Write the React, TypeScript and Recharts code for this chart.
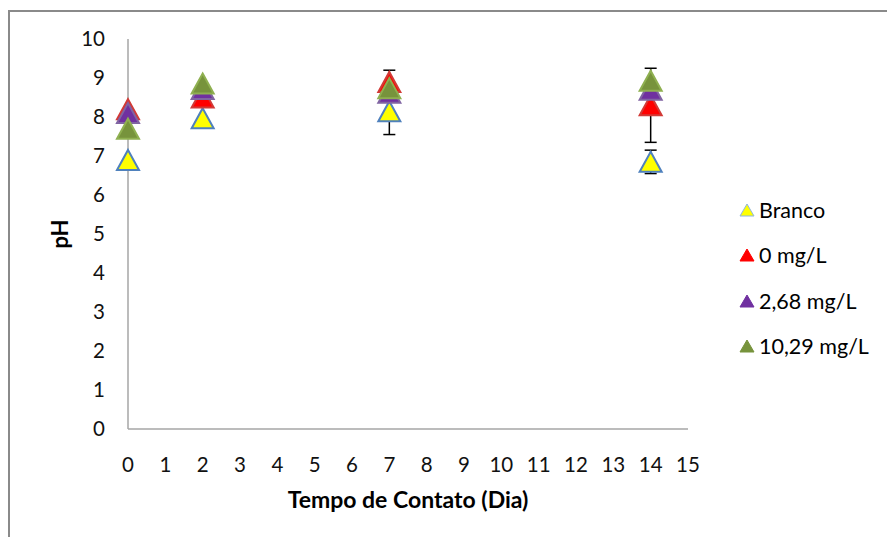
import React from 'react';
import {
  ScatterChart,
  Scatter,
  XAxis,
  YAxis,
  ErrorBar,
  Legend,
  Label,
} from 'recharts';

const days = [0, 2, 7, 14];
const brancoValues = [6.9, 7.97, 8.15, 6.85];
const brancoErrors = [null, null, 0.6, 0.3];
const zeroValues = [8.2, 8.5, 8.9, 8.3];
const zeroErrors = [null, null, 0.3, 0.95];
const mid268Values = [8.1, 8.72, 8.62, 8.7];
const high1029Values = [7.7, 8.86, 8.74, 8.93];

const xTicks = [0, 1, 2, 3, 4, 5, 6, 7, 8, 9, 10, 11, 12, 13, 14, 15];
const yTicks = [0, 1, 2, 3, 4, 5, 6, 7, 8, 9, 10];

const FONT = 'Lato, "Open Sans", sans-serif';

interface SeriesDef {
  name: string;
  fill: string;
  stroke: string;
  values: number[];
  errors?: (number | null)[];
}

const series: SeriesDef[] = [
  { name: 'Branco', fill: '#ffff00', stroke: '#4f81bd', values: brancoValues, errors: brancoErrors },
  { name: '0 mg/L', fill: '#ff0000', stroke: '#d23a36', values: zeroValues, errors: zeroErrors },
  { name: '2,68 mg/L', fill: '#7030a0', stroke: '#8064a2', values: mid268Values },
  { name: '10,29 mg/L', fill: '#77933c', stroke: '#8fb050', values: high1029Values },
];

const buildData = (s: SeriesDef) =>
  days.map((d, i) => ({ day: d, ph: s.values[i], err: s.errors ? s.errors[i] : null }));

const triangle = (fill: string, stroke: string) => (props: any) => {
  const { cx, cy } = props;
  if (cx == null || cy == null) return <g />;
  return (
    <path
      d={`M${cx},${cy - 10} L${cx + 11},${cy + 10} L${cx - 11},${cy + 10} Z`}
      fill={fill}
      stroke={stroke}
      strokeWidth={2}
      strokeLinejoin="miter"
    />
  );
};

const LegendBox = () => (
  <div style={{ fontFamily: FONT, fontSize: 21.5, color: '#000' }}>
    {series.map((s, i) => (
      <div key={s.name} style={{ display: 'flex', alignItems: 'center', height: 45.5 }}>
        <svg width={18} height={16} style={{ marginRight: 3 }}>
          <path
            d="M9,2 L16,14 L2,14 Z"
            fill={s.fill}
            stroke={i === 0 ? '#8eb4e3' : s.fill}
            strokeWidth={1}
          />
        </svg>
        <span>{s.name}</span>
      </div>
    ))}
  </div>
);

export default function App() {
  return (
    <div style={{ position: 'absolute', left: 0, top: 0, width: 887, height: 537, background: '#fff', overflow: 'hidden' }}>
      <div
        style={{
          position: 'absolute',
          left: 8,
          top: 10,
          width: 900,
          height: 560,
          borderLeft: '2px solid #8a8a8a',
          borderTop: '2px solid #8a8a8a',
        }}
      />
      <ScatterChart
        width={887}
        height={537}
        margin={{ top: 39, right: 199, left: 68, bottom: 48 }}
        style={{ position: 'absolute', left: 0, top: 0 }}
      >
        <XAxis
          type="number"
          dataKey="day"
          domain={[0, 15]}
          ticks={xTicks}
          interval={0}
          height={60}
          tickSize={0}
          tickMargin={28}
          tickLine={false}
          axisLine={{ stroke: '#a6a6a6', strokeWidth: 1.5 }}
          tick={{ fill: '#111', fontSize: 20.5, fontFamily: FONT }}
        >
          <Label
            value="Tempo de Contato (Dia)"
            position="insideBottom"
            offset={-19}
            style={{ fill: '#000', fontSize: 23, fontWeight: 700, fontFamily: FONT }}
          />
        </XAxis>
        <YAxis
          type="number"
          dataKey="ph"
          domain={[0, 10]}
          ticks={yTicks}
          interval={0}
          width={60}
          tickSize={0}
          tickMargin={23}
          tickLine={false}
          axisLine={{ stroke: '#a6a6a6', strokeWidth: 1.5 }}
          tick={{ fill: '#111', fontSize: 20.5, fontFamily: FONT }}
        >
          <Label
            value="pH"
            angle={-90}
            position="insideLeft"
            offset={-8}
            style={{ fill: '#000', fontSize: 22, fontWeight: 700, fontFamily: FONT, textAnchor: 'middle' }}
          />
        </YAxis>
        <Legend
          layout="horizontal"
          verticalAlign="middle"
          align="center"
          content={() => <LegendBox />}
          wrapperStyle={{ position: 'absolute', left: 738, top: 187, width: 150 }}
        />
        {series.map((s) => (
          <Scatter
            key={s.name}
            name={s.name}
            data={buildData(s)}
            fill={s.fill}
            shape={triangle(s.fill, s.stroke)}
            isAnimationActive={false}
          >
            {s.errors && (
              <ErrorBar dataKey="err" direction="y" width={6} stroke="#000" strokeWidth={1.5} />
            )}
          </Scatter>
        ))}
      </ScatterChart>
    </div>
  );
}
